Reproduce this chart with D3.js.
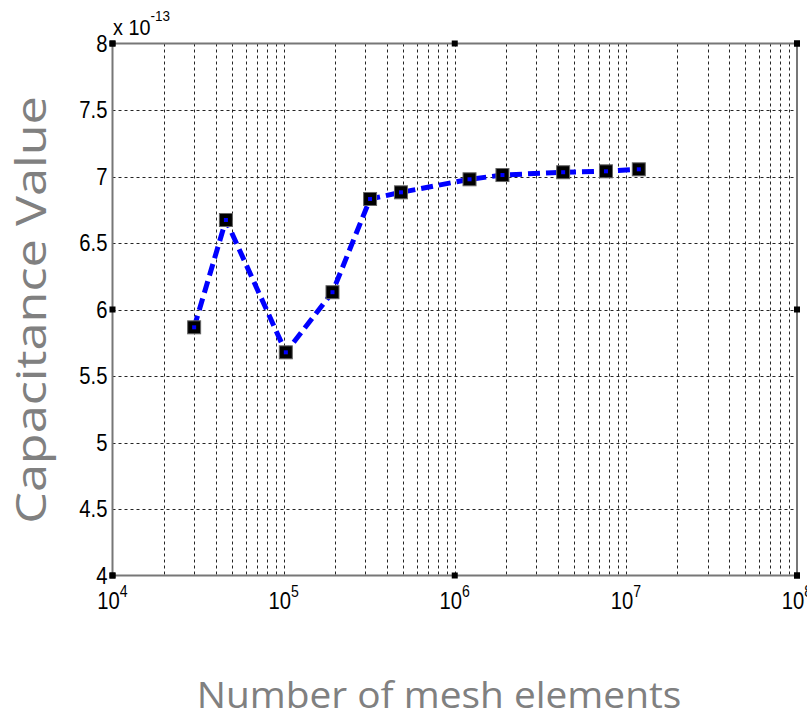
<!DOCTYPE html>
<html>
<head>
<meta charset="utf-8">
<script src="https://cdn.jsdelivr.net/npm/d3@7"></script>
<style>
  html, body { margin: 0; padding: 0; background: #fff; }
  svg { display: block; }
</style>
</head>
<body>
<div class="chart"></div>
<script>
// mesh size vs capacitance (values in units of 1e-13)
const meshElements = [3.0e4, 4.6e4, 1.03e5, 1.93e5, 3.2e5, 4.85e5, 1.22e6, 1.9e6, 4.3e6, 7.65e6, 1.19e7];
const capacitance = [5.866, 6.673, 5.678, 6.13, 6.831, 6.881, 6.979, 7.011, 7.032, 7.039, 7.054];

const xDecades = [4, 5, 6, 7, 8];
const yTicks = [4, 4.5, 5, 5.5, 6, 6.5, 7, 7.5, 8];
const yTickLabels = ['4', '4.5', '5', '5.5', '6', '6.5', '7', '7.5', '8'];
const xMarkTicks = [1e4, 1e6, 1e8];
const yMarkTicks = [4, 6, 8];
const exponent = '-13';

const w = 807, h = 725;
const padL = 112.5, padR = 797, padT = 43.5, padB = 575.5;

const x = d3.scaleLog().domain([1e4, 1e8]).range([padL, padR]);
const y = d3.scaleLinear().domain([4, 8]).range([padB, padT]);

const svg = d3.select('.chart')
  .append('svg')
  .attr('width', w)
  .attr('height', h)
  .attr('viewBox', `0 0 ${w} ${h}`);

// grid lines
const minor = [];
for (let d = 4; d < 8; d++) {
  for (let m = 1; m < 10; m++) {
    if (d === 4 && m === 1) continue;
    minor.push(m * Math.pow(10, d));
  }
}

const grid = svg.append('g')
  .attr('stroke', '#000')
  .attr('stroke-width', 1)
  .attr('stroke-dasharray', '3,3')
  .attr('opacity', 0.85);

grid.selectAll('.vgrid')
  .data(minor)
  .join('line')
  .attr('x1', d => Math.round(x(d)) + 0.5)
  .attr('x2', d => Math.round(x(d)) + 0.5)
  .attr('y1', padT)
  .attr('y2', padB);

grid.selectAll('.hgrid')
  .data(yTicks.slice(1, -1))
  .join('line')
  .attr('x1', padL)
  .attr('x2', padR)
  .attr('y1', d => Math.round(y(d)) + 0.5)
  .attr('y2', d => Math.round(y(d)) + 0.5);

// axes box
svg.append('rect')
  .attr('x', padL)
  .attr('y', padT)
  .attr('width', padR - padL)
  .attr('height', padB - padT)
  .attr('fill', 'none')
  .attr('stroke', '#777')
  .attr('stroke-width', 2);

// tick marks that survive as small squares
const marks = [];
xMarkTicks.forEach(v => { marks.push([x(v), padT]); marks.push([x(v), padB]); });
yMarkTicks.forEach(v => { marks.push([padL, y(v)]); marks.push([padR, y(v)]); });
svg.append('g')
  .selectAll('rect')
  .data(marks)
  .join('rect')
  .attr('x', d => d[0] - 3)
  .attr('y', d => d[1] - 3)
  .attr('width', 6)
  .attr('height', 6)
  .attr('fill', '#000');

// y tick labels (glyphs a little condensed like the original)
svg.append('g')
  .selectAll('text')
  .data(yTicks)
  .join('text')
  .attr('transform', d => `translate(${padL - 5},${y(d)}) scale(0.88,1)`)
  .attr('dy', '0.36em')
  .attr('text-anchor', 'end')
  .attr('font-family', 'Liberation Sans, Arial, sans-serif')
  .attr('font-size', 23)
  .attr('fill', '#000')
  .text((d, i) => yTickLabels[i]);

// x tick labels (10^n)
const xl = svg.append('g')
  .selectAll('text')
  .data(xDecades)
  .join('text')
  .attr('transform', d => `translate(${x(Math.pow(10, d))},609) scale(0.88,1)`)
  .attr('text-anchor', 'middle')
  .attr('font-family', 'Liberation Sans, Arial, sans-serif')
  .attr('font-size', 23)
  .attr('fill', '#000');
xl.append('tspan').text('10');
xl.append('tspan')
  .attr('dy', -12)
  .attr('font-size', 16)
  .text(d => d);

// exponent label
const ex = svg.append('text')
  .attr('transform', 'translate(113,35) scale(0.9,1)')
  .attr('font-family', 'Liberation Sans, Arial, sans-serif')
  .attr('font-size', 22)
  .attr('fill', '#000');
ex.append('tspan').text('x 10');
ex.append('tspan').attr('dy', -14).attr('font-size', 15).text(exponent);

// data line
const line = d3.line()
  .x((d, i) => x(meshElements[i]))
  .y(d => y(d));

svg.append('path')
  .datum(capacitance)
  .attr('fill', 'none')
  .attr('stroke', '#0000ff')
  .attr('stroke-width', 5)
  .attr('stroke-dasharray', '12,6')
  .attr('d', line);

// markers
const mk = svg.append('g')
  .selectAll('g')
  .data(capacitance)
  .join('g')
  .attr('transform', (d, i) => `translate(${x(meshElements[i])},${y(d)})`);
mk.append('rect')
  .attr('x', -6.5).attr('y', -6.5)
  .attr('width', 13).attr('height', 13)
  .attr('fill', '#000')
  .attr('stroke', '#666')
  .attr('stroke-width', 1);
mk.append('rect')
  .attr('x', -2).attr('y', -2)
  .attr('width', 4).attr('height', 4)
  .attr('fill', '#0000ff');

// axis titles
svg.append('text')
  .attr('transform', 'translate(439,708) scale(1.05,1)')
  .attr('text-anchor', 'middle')
  .attr('font-family', 'Open Sans, sans-serif')
  .attr('font-size', 37)
  .attr('fill', '#808080')
  .text('Number of mesh elements');

svg.append('text')
  .attr('transform', 'translate(46,310) rotate(-90) scale(1.2,1)')
  .attr('text-anchor', 'middle')
  .attr('font-family', 'Open Sans, sans-serif')
  .attr('font-size', 42)
  .attr('fill', '#808080')
  .text('Capacitance Value');
</script>
</body>
</html>
